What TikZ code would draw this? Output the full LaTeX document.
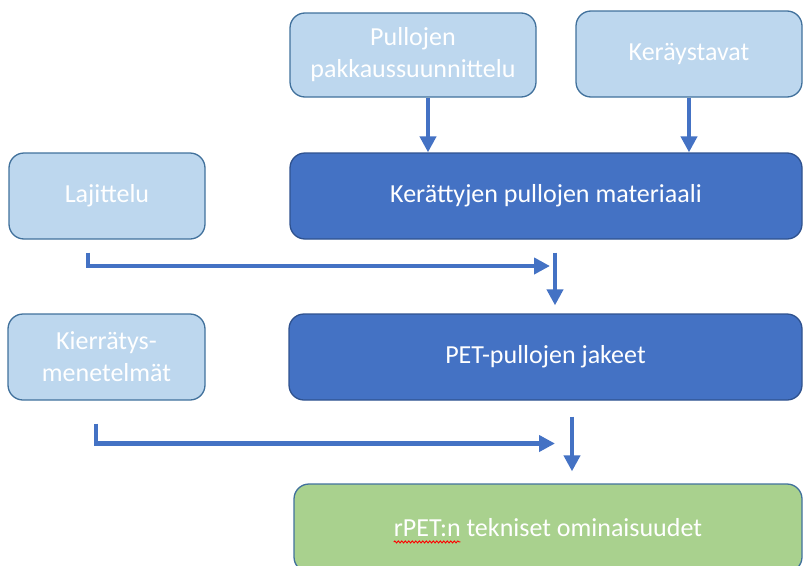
\documentclass[tikz,border=0pt]{standalone}
\usepackage{fontspec}
\setmainfont{Carlito}
\usetikzlibrary{arrows.meta,decorations.pathmorphing}
\definecolor{lightbox}{HTML}{BDD7EE}
\definecolor{darkbox}{HTML}{4472C4}
\definecolor{greenbox}{HTML}{A9D18E}
\definecolor{edgeblue}{HTML}{41719C}
\definecolor{darkedge}{HTML}{2F528F}
\definecolor{arrowblue}{HTML}{4472C4}
\newlength\rpetw
\begin{document}
\settowidth{\rpetw}{\fontsize{26}{32}\selectfont rPET:n}%
\begin{tikzpicture}[x=1pt,y=-1pt,
  box/.style={draw=edgeblue, line width=1.3pt, rounded corners=15pt, text=white,
    font=\fontsize{26}{32}\selectfont, align=center, inner sep=0pt},
  lightnode/.style={box, fill=lightbox},
  darknode/.style={box, fill=darkbox, draw=darkedge},
  greennode/.style={box, fill=greenbox},
  flow/.style={draw=arrowblue, line width=4.3pt,
    -{Triangle[width=16pt,length=16pt]}},
  elbow/.style={flow, line cap=butt, line join=miter}]
\useasboundingbox (0,0) rectangle (803,565);
\clip (0,0) rectangle (803,565);
% boxes
\node[lightnode, minimum width=246pt, minimum height=84pt] (pak) at (413,55) {Pullojen\\pakkaussuunnittelu};
\node[lightnode, minimum width=226pt, minimum height=86pt] (ker) at (689,54) {Keräystavat};
\node[lightnode, minimum width=196pt, minimum height=86pt] (laj) at (107,196) {Lajittelu};
\node[darknode, minimum width=512pt, minimum height=86pt] (mat) at (546,196) {Kerättyjen pullojen materiaali};
\node[lightnode, minimum width=197pt, minimum height=86pt] (kie) at (106.5,357) {Kierrätys-\\menetelmät};
\node[darknode, minimum width=513pt, minimum height=86pt] (pet) at (545.5,357) {PET-pullojen jakeet};
\node[greennode, minimum width=508pt, minimum height=88pt] (rpet) at (548,528) {};
\node[text=white, font=\fontsize{26}{32}\selectfont, inner sep=0pt] (rtxt) at (rpet.center) {rPET:n tekniset ominaisuudet};
\draw[red, line width=0.9pt, decorate, decoration={snake, amplitude=1pt, segment length=3.5pt}]
  ([yshift=-5pt]rtxt.base west) -- ([yshift=-5pt,xshift=\rpetw]rtxt.base west);
% connectors
\draw[flow] ([xshift=15pt]pak.south) -- ([xshift=15pt]pak.south |- mat.north);
\draw[flow] (ker.south) -- (ker.south |- mat.north);
\coordinate (j1) at (550,266);
\draw[elbow] ([xshift=-19pt,yshift=-13pt]laj.south) |- (j1);
\draw[flow] ([xshift=9pt,yshift=-13pt]mat.south) -- ([xshift=9pt,yshift=8pt]mat.south |- pet.north);
\coordinate (j2) at (555,443.5);
\draw[elbow] ([xshift=-10.5pt,yshift=-23pt]kie.south) |- (j2);
\draw[flow] ([xshift=26.5pt,yshift=-16pt]pet.south) -- ([xshift=26.5pt,yshift=12pt]pet.south |- rpet.north);
\end{tikzpicture}
\end{document}
